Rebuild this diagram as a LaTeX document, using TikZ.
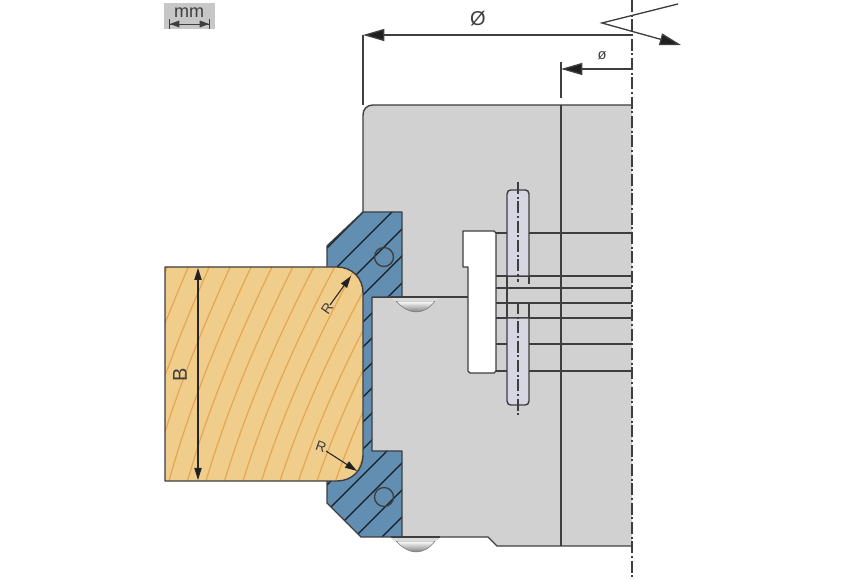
\documentclass[tikz,border=0pt]{standalone}
\usepackage{fontspec}
\setmainfont{Liberation Sans}
\usepackage{color}
\definecolor{mybody}{RGB}{209,209,210}
\definecolor{myblue}{RGB}{98,142,177}
\definecolor{mywood}{RGB}{241,205,140}
\definecolor{mygrain}{RGB}{228,168,84}
\definecolor{mypin}{RGB}{214,215,226}
\definecolor{myline}{RGB}{62,62,64}
\usetikzlibrary{arrows.meta,positioning}

\begin{document}
\begin{tikzpicture}[
  x=0.75pt,
  y=-0.75pt,
  outline/.style={draw=myline, line width=1.05pt, line join=round},
  thinline/.style={draw=myline, line width=1pt},
  hatchline/.style={draw=black!80!myblue, line width=0.85pt},
  grainline/.style={draw=mygrain, line width=0.95pt},
  dimline/.style={draw=myline, line width=1pt},
  centerline/.style={draw=myline, line width=0.8pt, dash pattern=on 9pt off 2pt on 1.5pt off 2pt},
  dimtip/.style={-{Triangle[length=16pt,width=9pt,fill=black!88]}},
  rtip/.style={-{Triangle[length=9pt,width=5.5pt,fill=black!88]}},
  dimtext/.style={inner sep=0pt, text=myline}
]
\useasboundingbox (0,0) rectangle (846,580);

% body
\path [fill=mybody]
  (363,212) -- (363,115) .. controls (363,109) and (367,105) .. (373,105)
  -- (632,105) -- (632,546) -- (497,546) -- (488,537) -- (402,537)
  -- (402,451) -- (372,451) -- (372,297) -- (402,297) -- (402,212) -- cycle;
\draw [outline]
  (363,212) -- (363,115) .. controls (363,109) and (367,105) .. (373,105) -- (632,105);
\draw [outline] (632,546) -- (497,546) -- (488,537) -- (402,537);
\draw [thinline] (561,105) -- (561,546);
\draw [thinline] (372,297) -- (468,297);

% blue knife
\path [fill=myblue]
  (363,212) -- (402,212) -- (402,297) -- (372,297) -- (372,451) -- (402,451)
  -- (402,537) -- (361,537) -- (327,503) -- (327,246) -- cycle;
\begin{scope}
  \clip (363,212) -- (402,212) -- (402,297) -- (372,297) -- (372,451) -- (402,451)
    -- (402,537) -- (361,537) -- (327,503) -- (327,246) -- cycle;
  \foreach \hsum in {575,604,631,658,685,710,735,760,785,812,838,865,892,919}
    \draw [hatchline] (\hsum-600,600) -- (\hsum-200,200);
\end{scope}
\draw [outline]
  (363,212) -- (402,212) -- (402,297) -- (372,297) -- (372,451) -- (402,451)
  -- (402,537) -- (361,537) -- (327,503) -- (327,246) -- cycle;
\draw [thinline] (384,257) circle (9.5);
\draw [thinline] (384,497) circle (9.5);

% screw heads
\foreach \sy in {297,537} {
  \shade [top color=white, bottom color=myline!65!white, draw=myline!70!white, line width=0.4pt]
    (396,\sy+4) .. controls (402,\sy+11) and (410,\sy+15) .. (416,\sy+15)
    .. controls (423,\sy+15) and (430,\sy+11) .. (435,\sy+4) -- cycle;
  \path [fill=mybody!80!white] (391,\sy) -- (440,\sy)
    .. controls (439,\sy+3) and (437,\sy+4) .. (435,\sy+4)
    -- (396,\sy+4) .. controls (394,\sy+4) and (392,\sy+3) .. (391,\sy) -- cycle;
  \draw [outline] (391,\sy) -- (440,\sy);
}

% slot piece
\path [outline, fill=white]
  (463,231) -- (494,231) -- (496,233) -- (496,371) -- (494,373) -- (470,373)
  -- (468,371) -- (468,267) -- (463,267) -- cycle;
\foreach \ly in {233,344,371}
  \draw [thinline] (496,\ly) -- (632,\ly);
\foreach \ly in {276,288,303,318}
  \draw [thinline] (496,\ly) -- (632,\ly);

% pin
\path [outline, fill=mypin]
  (507,276) -- (507,194) .. controls (507,191) and (509,190) .. (511,190)
  -- (525,190) .. controls (527,190) and (529,191) .. (529,194) -- (529,276) -- cycle;
\path [outline, fill=mypin]
  (507,318) -- (507,401) .. controls (507,404) and (509,405) .. (511,405)
  -- (525,405) .. controls (527,405) and (529,404) .. (529,401) -- (529,318) -- cycle;
\draw [thinline] (507,276) -- (507,318);
\draw [thinline] (529,276) -- (529,284);
\draw [thinline] (529,303) -- (529,318);
\draw [centerline] (518,182) -- (518,282);
\draw [centerline] (518,302) -- (518,415);

% wood
\path [fill=mywood]
  (165,267) -- (337,267) .. controls (352,267) and (363,278) .. (363,293)
  -- (363,455) .. controls (363,470) and (352,481) .. (337,481) -- (165,481) -- cycle;
\begin{scope}
  \clip (165,267) -- (337,267) .. controls (352,267) and (363,278) .. (363,293)
    -- (363,455) .. controls (363,470) and (352,481) .. (337,481) -- (165,481) -- cycle;
  \foreach \gx in {95,113.5,...,400} {
    \pgfmathsetmacro{\gdx}{87+0.13*(\gx-207)}
    \draw [grainline] (\gx,481) .. controls (\gx+0.24*\gdx,410) and (\gx+0.58*\gdx,340) .. (\gx+\gdx,267);
  }
\end{scope}
\draw [outline]
  (165,267) -- (337,267) .. controls (352,267) and (363,278) .. (363,293)
  -- (363,455) .. controls (363,470) and (352,481) .. (337,481) -- (165,481) -- cycle;

% main dimensions
\draw [centerline] (632,0) -- (632,580);
\draw [dimline] (363,35) -- (363,105);
\draw [dimline] (561,62) -- (561,98);
\coordinate (bigend) at (632,35);
\coordinate (smallend) at (632,69);
\draw [dimline, dimtip] (bigend) -- (363,35);
\draw [dimline, dimtip] (smallend) -- (561,69);
\draw [dimline, dimtip] (678,4) -- (602,23) -- (681,45);
\node [dimtext, font=\fontsize{15}{15}\selectfont] (bigdia) at (478,19) {Ø};
\node [dimtext, font=\fontsize{11}{11}\selectfont] (smalldia) at (602,56) {ø};

% wood dimensions
\draw [line width=0.8pt, draw=black!85, {Triangle[length=9pt,width=5.5pt,fill=black!88]}-{Triangle[length=9pt,width=5.5pt,fill=black!88]}] (198,268) -- (198,480);
\node [dimtext, rotate=90, font=\fontsize{15}{15}\selectfont] (bwidth) at (180,375) {B};
\draw [line width=0.8pt, draw=black!85, rtip] (330,305) -- (351,276);
\draw [line width=0.8pt, draw=black!85, rtip] (326,451) -- (357,471);
\node [dimtext, rotate=55, font=\fontsize{10.5}{10.5}\selectfont] (rtop) at (327,309) {R};
\node [dimtext, rotate=-20, font=\fontsize{10.5}{10.5}\selectfont] (rbottom) at (321,447) {R};

% unit badge
\path [fill=mybody!95!black] (164,3) rectangle (215,29);
\node [dimtext, font=\fontsize{13.5}{13.5}\selectfont] (unit) at (189,13) {mm};
\coordinate (unitleft) at (169,24);
\coordinate (unitright) at (210,24);
\draw [line width=0.7pt, draw=myline, {Bar[width=7pt,length=0pt]Triangle[length=7pt,width=5pt,fill=myline]}-{Triangle[length=7pt,width=5pt,fill=myline]Bar[width=7pt,length=0pt]}] (unitleft) -- (unitright);
\end{tikzpicture}
\end{document}
